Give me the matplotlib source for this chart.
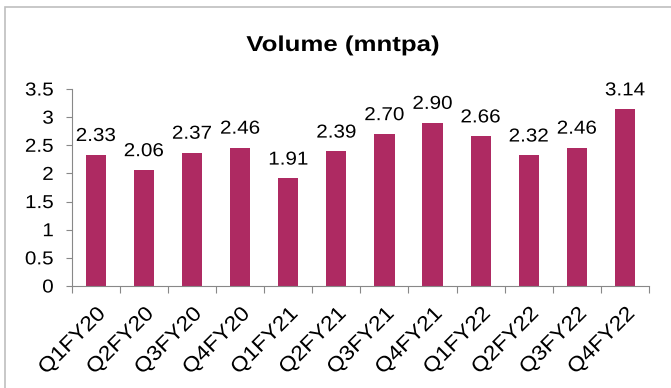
import matplotlib.pyplot as plt
from matplotlib.patches import Rectangle
from matplotlib.patheffects import AbstractPathEffect
from matplotlib.transforms import Affine2D

quarters = ['Q1FY20', 'Q2FY20', 'Q3FY20', 'Q4FY20', 'Q1FY21', 'Q2FY21',
            'Q3FY21', 'Q4FY21', 'Q1FY22', 'Q2FY22', 'Q3FY22', 'Q4FY22']
volume = [2.33, 2.06, 2.37, 2.46, 1.91, 2.39, 2.70, 2.90, 2.66, 2.32, 2.46, 3.14]
yticks = [0, 0.5, 1, 1.5, 2, 2.5, 3, 3.5]
ytick_labels = ['0', '0.5', '1', '1.5', '2', '2.5', '3', '3.5']


class Widen(AbstractPathEffect):
    """Draw text a bit wider than the font, keeping one end (or the middle) fixed."""

    def __init__(self, sx, anchor='center'):
        super().__init__()
        self.sx = sx
        self.anchor = anchor

    def draw_path(self, renderer, gc, tpath, affine, rgbFace=None):
        xs = tpath.vertices[:, 0]
        if len(xs) == 0:
            return
        a = {'left': xs.min(), 'right': xs.max(),
             'center': (xs.min() + xs.max()) / 2}[self.anchor]
        stretch = Affine2D().translate(-a, 0).scale(self.sx, 1).translate(a, 0)
        renderer.draw_path(gc, tpath, stretch + affine, rgbFace)


plt.rcParams['font.family'] = ['Liberation Sans', 'DejaVu Sans']

fig = plt.figure(figsize=(6.71, 3.88), dpi=100)
ax = fig.add_axes([0.1069, 0.2629, 0.8603, 0.5077])

# chart frame
fig.patches.append(Rectangle((5 / 671, -0.05), 1.0, 1 - 7 / 388 + 0.05,
                             transform=fig.transFigure, fill=False,
                             edgecolor='#bfbfbf', linewidth=1.2))

x = range(len(quarters))
ax.bar(x, volume, width=0.42, color='#ae2a62')

for xi, v in zip(x, volume):
    t = ax.annotate(f'{v:.2f}', (xi, v), xytext=(0, 10), textcoords='offset points',
                    ha='center', va='baseline', fontsize=13.5)
    t.set_path_effects([Widen(1.1, 'center')])

ax.set_xlim(-0.5, len(quarters) - 0.5)
ax.set_ylim(0, 3.5)
ax.set_yticks(yticks)
ax.set_yticklabels(ytick_labels, fontsize=13.5)
for t in ax.get_yticklabels():
    t.set_path_effects([Widen(1.1, 'right')])

# ticks sit between the bars, names under the bars
ax.set_xticks([i + 0.5 for i in range(-1, len(quarters))])
ax.set_xticklabels([])
ax.set_xticks(list(x), minor=True)
ax.set_xticklabels(quarters, minor=True, rotation=45, ha='right',
                   rotation_mode='anchor', fontsize=15)
for t in ax.get_xticklabels(minor=True):
    t.set_path_effects([Widen(1.1, 'right')])
ax.tick_params(axis='x', which='minor', length=0, pad=13)
ax.tick_params(axis='x', which='major', length=5, color='#888888', direction='out')
ax.tick_params(axis='y', length=4.5, color='#888888', direction='out', pad=8.5)

for side in ['top', 'right']:
    ax.spines[side].set_visible(False)
for side in ['left', 'bottom']:
    ax.spines[side].set_color('#888888')

title = fig.text(0.511, 1 - 51 / 388, 'Volume (mntpa)', ha='center', va='baseline',
                 fontsize=15.5, fontweight='bold')
title.set_path_effects([Widen(1.2, 'center')])

fig.savefig('out.png', dpi=100)
